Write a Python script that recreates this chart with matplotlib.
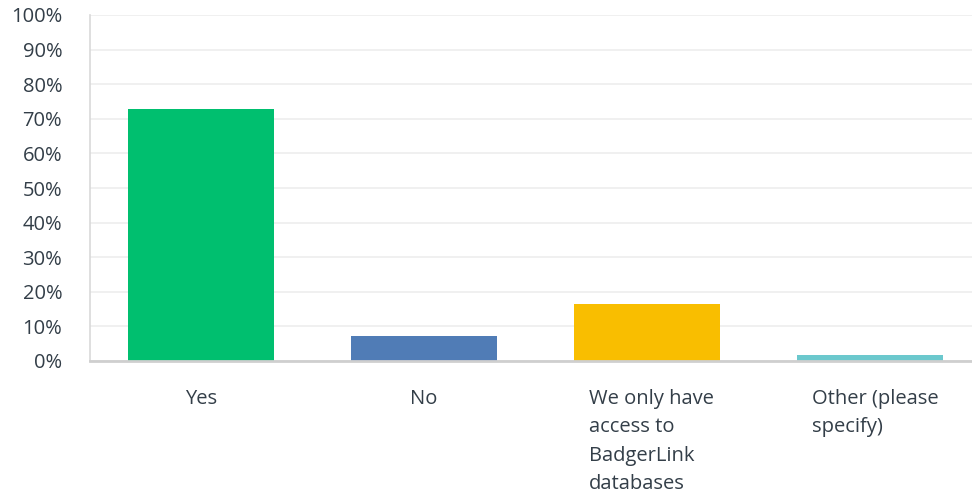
import matplotlib
matplotlib.use('Agg')
import matplotlib.pyplot as plt
import matplotlib.transforms as mtransforms

# survey answers (share of respondents, %)
categories = ['Yes', 'No', 'We only have\naccess to\nBadgerLink\ndatabases', 'Other (please\nspecify)']
percentages = [72.73, 7.27, 16.36, 1.82]
bar_colors = ['#00bf6f', '#507cb6', '#f9be00', '#6bc8cd']
y_ticks = list(range(0, 101, 10))
y_tick_labels = [str(t) + '%' for t in y_ticks]

plt.rcParams['font.family'] = ['Open Sans', 'DejaVu Sans']
text_color = '#333e48'

fig = plt.figure(figsize=(9.72, 5.0), dpi=100)
# plot area runs a bit past the right edge of the image, like the original
ax = fig.add_axes([90 / 972, 139 / 500, 891 / 972, 346 / 500])

ax.bar(range(len(categories)), percentages, width=0.656, color=bar_colors, zorder=3)

ax.set_xlim(-0.5, len(categories) - 0.5)
ax.set_ylim(0, 100)
ax.set_yticks(y_ticks)
ax.set_yticklabels(y_tick_labels)
ax.yaxis.grid(True, color='#efefef', linewidth=1.3, zorder=0)

ax.set_xticks(range(len(categories)))
ax.set_xticklabels(categories, linespacing=1.57, va='top')

ax.tick_params(axis='y', length=0, pad=20, labelsize=14.5, labelcolor=text_color)
ax.tick_params(axis='x', length=0, pad=20, labelsize=14.5, labelcolor=text_color)

# wrapped labels sit left-aligned inside a fixed-width box centred on the bar
shift = mtransforms.ScaledTranslation(-0.58, 0, fig.dpi_scale_trans)
for lab in ax.get_xticklabels():
    if '\n' in lab.get_text():
        lab.set_horizontalalignment('left')
        lab.set_multialignment('left')
        lab.set_transform(lab.get_transform() + shift)

for side in ['top', 'right']:
    ax.spines[side].set_visible(False)
ax.spines['left'].set_color('#d9d9d9')
ax.spines['left'].set_linewidth(1.2)
ax.spines['bottom'].set_color('#cfcfcf')
ax.spines['bottom'].set_linewidth(2)
ax.spines['bottom'].set_zorder(4)

plt.savefig('out.png', dpi=100)
